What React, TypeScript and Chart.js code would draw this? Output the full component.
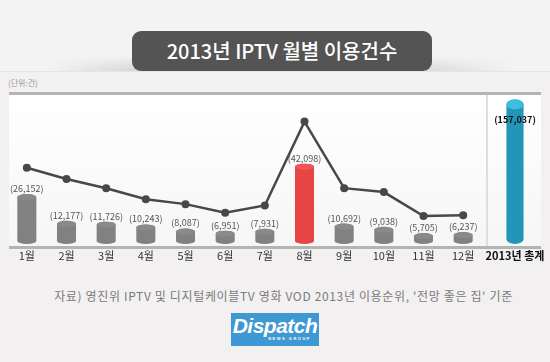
import React, { useEffect, useRef } from "react";
import { Chart, registerables } from "chart.js";

Chart.register(...registerables);

// ---- data ----
const months = ["1월", "2월", "3월", "4월", "5월", "6월", "7월", "8월", "9월", "10월", "11월", "12월"];
const monthlyCounts = [26152, 12177, 11726, 10243, 8087, 6951, 7931, 42098, 10692, 9038, 5705, 6237];
// relative trend line (unlabelled index, 0-100)
const trendIndex = [52.6, 44.8, 38.5, 30.9, 27.5, 21.5, 26.6, 84.4, 38.5, 35.8, 19.3, 19.9];
const totalLabels = ["2013년 총계"];
const totalCounts = [157037];
const peakMonth = "8월";

const titleText = "2013년 IPTV 월별 이용건수";
const unitText = "(단위:건)";
const sourceText = "자료) 영진위 IPTV 및 디지털케이블TV 영화 VOD 2013년 이용순위, '전망 좋은 집' 기준";

const FONT = "'Noto Sans CJK KR', 'Open Sans', sans-serif";

const fmt = (v: number) => "(" + v.toLocaleString("en-US") + ")";

const cylinderPlugin = {
  id: "cylinder",
  beforeDatasetDraw(chart: any, args: any) {
    const meta = args.meta;
    if (meta.type !== "bar") return;
    const ds = chart.data.datasets[args.index];
    const ctx = chart.ctx;
    const maxRy = ds.cylRy || 3;
    ctx.save();
    meta.data.forEach((el: any, i: number) => {
      const { x, y, base, width } = el.getProps(["x", "y", "base", "width"], true);
      const h = base - y;
      const left = x - width / 2;
      const rx = width / 2;
      const ry = Math.max(0.5, Math.min(maxRy, h / 2));
      const body = Array.isArray(ds.backgroundColor) ? ds.backgroundColor[i] : ds.backgroundColor;
      const top = Array.isArray(ds.topColor) ? ds.topColor[i] : ds.topColor || body;
      ctx.fillStyle = body;
      ctx.beginPath();
      ctx.moveTo(left, y + ry);
      ctx.lineTo(left, base - ry);
      ctx.ellipse(x, base - ry, rx, ry, 0, Math.PI, 0, true);
      ctx.lineTo(left + width, y + ry);
      ctx.ellipse(x, y + ry, rx, ry, 0, 0, Math.PI, true);
      ctx.closePath();
      ctx.fill();
      ctx.fillStyle = top;
      ctx.beginPath();
      ctx.ellipse(x, y + ry, rx, ry, 0, 0, Math.PI * 2);
      ctx.fill();
    });
    ctx.restore();
    return false;
  },
  afterDatasetsDraw(chart: any) {
    const ctx = chart.ctx;
    ctx.save();
    ctx.textAlign = "center";
    chart.data.datasets.forEach((ds: any, di: number) => {
      const meta = chart.getDatasetMeta(di);
      if (meta.type !== "bar") return;
      meta.data.forEach((el: any, i: number) => {
        const { x, y } = el.getProps(["x", "y"], true);
        const txt = fmt(ds.data[i]);
        if (ds.labelInside) {
          ctx.font = "bold 9px " + FONT;
          ctx.fillStyle = "#111";
          ctx.textBaseline = "middle";
          ctx.fillText(txt, x, y + 20);
        } else {
          ctx.font = "9px " + FONT;
          ctx.fillStyle = "#555";
          ctx.textBaseline = "bottom";
          ctx.fillText(txt, x, y - 1);
        }
      });
    });
    ctx.restore();
  },
};

function App() {
  const monthRef = useRef<HTMLCanvasElement>(null);
  const totalRef = useRef<HTMLCanvasElement>(null);

  useEffect(() => {
    const barColors = months.map((m) => (m === peakMonth ? "#e64545" : "#818181"));
    const topColors = months.map((m) => (m === peakMonth ? "#ef5656" : "#8a8a8a"));
    const monthChart = new Chart(monthRef.current as HTMLCanvasElement, {
      type: "bar",
      data: {
        labels: months,
        datasets: [
          {
            type: "line",
            data: trendIndex,
            yAxisID: "y2",
            borderColor: "#484848",
            borderWidth: 2.5,
            pointRadius: 4,
            pointBackgroundColor: "#484848",
            pointBorderWidth: 0,
            tension: 0,
            order: 0,
          } as any,
          {
            type: "bar",
            data: monthlyCounts,
            backgroundColor: barColors,
            topColor: topColors,
            cylRy: 3,
            barPercentage: 0.48,
            categoryPercentage: 1,
            order: 1,
          } as any,
        ],
      },
      options: {
        responsive: false,
        animation: false,
        devicePixelRatio: 1,
        layout: { padding: { left: 7, right: 3, top: 0, bottom: 0 } },
        plugins: { legend: { display: false }, tooltip: { enabled: false } },
        scales: {
          x: {
            grid: { display: false, drawTicks: false },
            border: { display: false },
            ticks: { color: "#333", font: { family: FONT, size: 11 }, padding: 5, maxRotation: 0, autoSkip: false },
            afterFit: (s: any) => {
              s.height = 26;
            },
          },
          y: { display: false, min: 0, max: 76000 },
          y2: { display: false, min: 0, max: 100 },
        },
      },
      plugins: [cylinderPlugin],
    });

    const totalChart = new Chart(totalRef.current as HTMLCanvasElement, {
      type: "bar",
      data: {
        labels: totalLabels,
        datasets: [
          {
            data: totalCounts,
            backgroundColor: "#2395b6",
            topColor: "#3fbde0",
            cylRy: 5,
            labelInside: true,
            barPercentage: 0.34,
            categoryPercentage: 1,
          } as any,
        ],
      },
      options: {
        responsive: false,
        animation: false,
        devicePixelRatio: 1,
        layout: { padding: { left: 7, right: 4, top: 0, bottom: 0 } },
        plugins: { legend: { display: false }, tooltip: { enabled: false } },
        scales: {
          x: {
            grid: { display: false, drawTicks: false },
            border: { display: false },
            ticks: { color: "#111", font: { family: FONT, size: 11, weight: "bold" }, padding: 5, maxRotation: 0, autoSkip: false },
            afterFit: (s: any) => {
              s.height = 26;
            },
          },
          y: { display: false, min: 0, max: 162000 },
        },
      },
      plugins: [cylinderPlugin],
    });

    return () => {
      monthChart.destroy();
      totalChart.destroy();
    };
  }, []);

  return (
    <div
      style={{
        position: "absolute",
        left: 0,
        top: 0,
        width: 550,
        height: 362,
        background: "#f2f0f1",
        overflow: "hidden",
        fontFamily: FONT,
      }}
    >
      {/* top band */}
      <div style={{ position: "absolute", left: 0, top: 0, width: 550, height: 71, background: "#f4f3f4" }} />
      <div
        style={{
          position: "absolute",
          left: 50,
          top: 56,
          width: 90,
          height: 15,
          background: "linear-gradient(to right, rgba(0,0,0,0), rgba(0,0,0,0.13))",
          WebkitMaskImage: "linear-gradient(to bottom, rgba(0,0,0,0), rgba(0,0,0,1))",
        }}
      />
      <div
        style={{
          position: "absolute",
          left: 425,
          top: 56,
          width: 90,
          height: 15,
          background: "linear-gradient(to left, rgba(0,0,0,0), rgba(0,0,0,0.1))",
          WebkitMaskImage: "linear-gradient(to bottom, rgba(0,0,0,0), rgba(0,0,0,1))",
        }}
      />
      <div style={{ position: "absolute", left: 0, top: 71, width: 550, height: 1, background: "#e6e5e6" }} />
      {/* title */}
      <div
        style={{
          position: "absolute",
          left: 132,
          top: 31,
          width: 300,
          height: 40,
          background: "#545454",
          borderRadius: 9,
          color: "#fff",
          fontSize: 20,
          fontWeight: 500,
          lineHeight: "40px",
          textAlign: "center",
          whiteSpace: "nowrap",
        }}
      >
        {titleText}
      </div>
      {/* unit */}
      <div style={{ position: "absolute", left: 8, top: 77, fontSize: 8, color: "#999", whiteSpace: "nowrap" }}>{unitText}</div>
      {/* plot panel */}
      <div
        style={{
          position: "absolute",
          left: 9,
          top: 95,
          width: 532,
          height: 151,
          background: "linear-gradient(180deg, #ffffff 0%, #f6f6f6 100%)",
        }}
      />
      <div style={{ position: "absolute", left: 9, top: 92, width: 532, height: 3, background: "#b4b4b4" }} />
      <div style={{ position: "absolute", left: 9, top: 246, width: 532, height: 3, background: "#b4b4b4" }} />
      <div style={{ position: "absolute", left: 486, top: 95, width: 2, height: 151, background: "#dedede" }} />
      {/* charts */}
      <canvas
        ref={monthRef}
        width={487}
        height={175}
        style={{ position: "absolute", left: 0, top: 95, width: 487, height: 175 }}
      />
      <canvas
        ref={totalRef}
        width={70}
        height={175}
        style={{ position: "absolute", left: 480, top: 95, width: 70, height: 175 }}
      />
      {/* source */}
      <div
        style={{
          position: "absolute",
          left: 0,
          top: 287,
          width: 567,
          textAlign: "center",
          fontSize: 12,
          letterSpacing: 0.65,
          color: "#7a7a7a",
          whiteSpace: "nowrap",
        }}
      >
        {sourceText}
      </div>
      {/* logo */}
      <div
        style={{
          position: "absolute",
          left: 231,
          top: 313,
          width: 88,
          height: 33,
          background: "#3d98d3",
        }}
      >
        <div
          style={{
            position: "absolute",
            left: 0,
            top: 2,
            width: 88,
            textAlign: "center",
            color: "#fff",
            fontFamily: "'Liberation Sans', Arial, sans-serif",
            fontStyle: "italic",
            fontWeight: "bold",
            fontSize: 21,
            lineHeight: "22px",
            letterSpacing: -0.5,
          }}
        >
          Dispatch
        </div>
        <div
          style={{
            position: "absolute",
            right: 8,
            top: 23,
            color: "#fff",
            fontFamily: "'Liberation Sans', Arial, sans-serif",
            fontWeight: "bold",
            fontSize: 4,
            letterSpacing: 1.5,
            lineHeight: "5px",
          }}
        >
          NEWS GROUP
        </div>
      </div>
    </div>
  );
}

export default App;
